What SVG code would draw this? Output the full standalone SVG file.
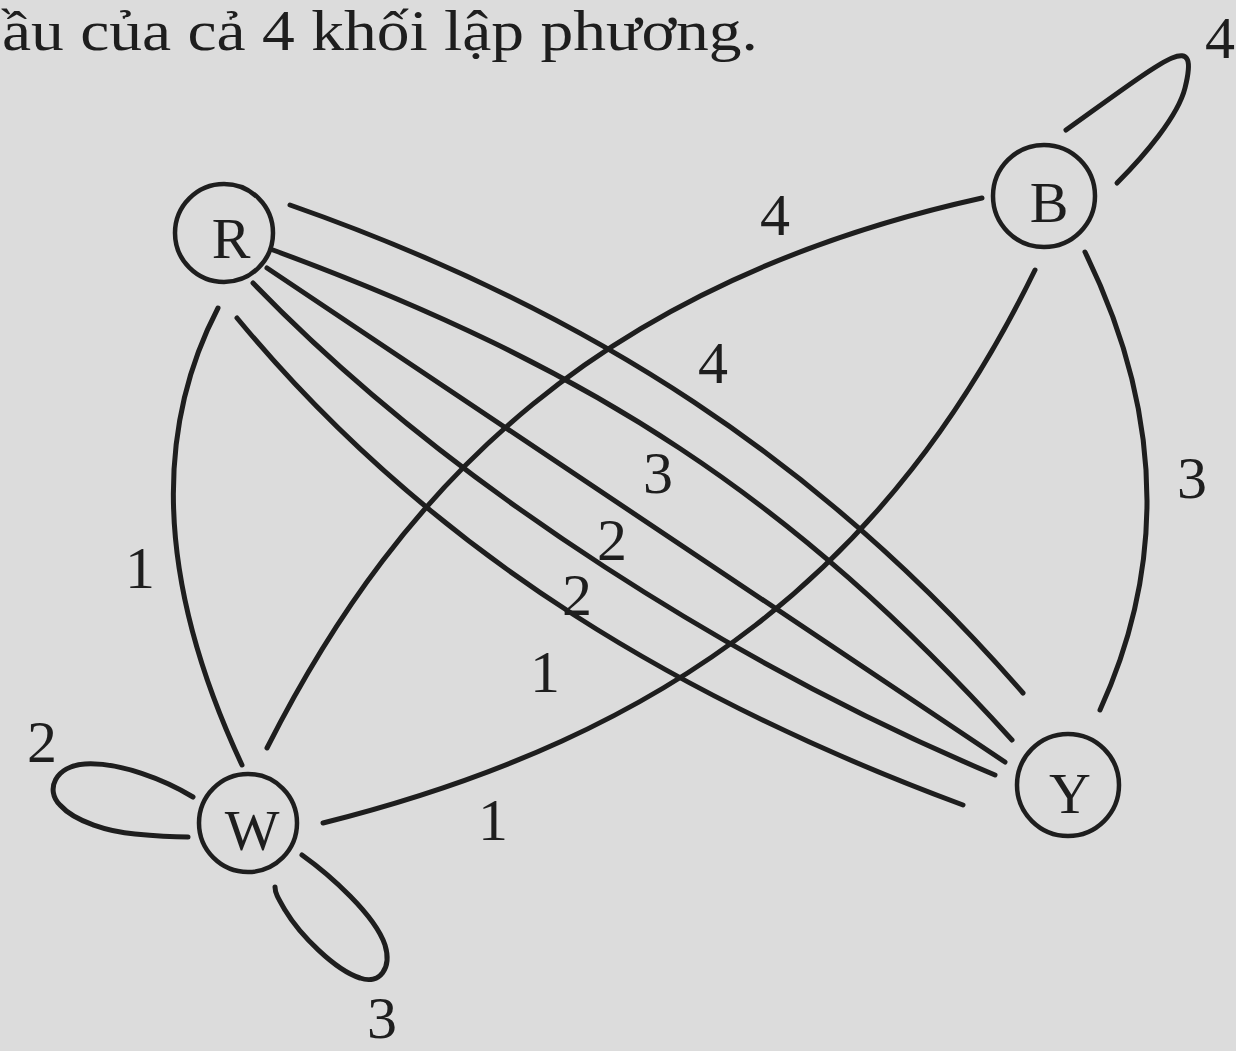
<svg xmlns="http://www.w3.org/2000/svg" width="1236" height="1051" viewBox="0 0 1236 1051">
<style>
.bg{fill:#dcdcdc}
.node circle{fill:none;stroke:#1e1e1e;stroke-width:4.5}
.node text{font-family:"Liberation Serif","DejaVu Serif",serif;font-size:58px;fill:#1e1e1e;text-anchor:middle}
.edges path{fill:none;stroke:#1e1e1e;stroke-width:5;stroke-linecap:round}
.lbl{font-family:"Liberation Serif","DejaVu Serif",serif;font-size:60px;fill:#1e1e1e;text-anchor:middle}
.cap{font-family:"Liberation Serif","DejaVu Serif",serif;font-size:56px;fill:#1e1e1e}
</style>
<rect class="bg" x="0" y="0" width="1236" height="1051"/>
<text class="cap" x="2" y="50" textLength="756" lengthAdjust="spacingAndGlyphs">ầu của cả 4 khối lập phương.</text>
<g class="edges" id="edges">
  <path id="e-RY4" d="M290,205 C590,310 823,463 1023,693"/>
  <path id="e-RY3" d="M273,250 C593,368 792,498 1012,740"/>
  <path id="e-RY2a" d="M267,268 L1005,762"/>
  <path id="e-RY2b" d="M253,283 C453,490 745,670 995,775"/>
  <path id="e-RY1" d="M237,318 C437,560 693,705 963,805"/>
  <path id="e-RW1" d="M218,308 Q118,500 242,765"/>
  <path id="e-BW4" d="M982,198 C602,282 402,481 267,748"/>
  <path id="e-WB1" d="M323,823 C673,735 890,567 1035,270"/>
  <path id="e-BY3" d="M1085,252 Q1201,489 1100,710"/>
  <path id="e-BB4" d="M1066,130 C1115,95 1155,65 1172,58 S1192,60 1185,88 S1145,155 1117,183"/>
  <path id="e-WW2" d="M193,797 C165,780 120,762 85,764 C55,766 45,790 60,805 C75,822 110,832 135,834 C155,836 175,837 188,837"/>
  <path id="e-WW3" d="M302,855 C330,875 375,915 385,945 C392,968 380,985 360,978 C335,970 300,935 285,910 C278,898 275,893 275,887"/>
</g>
<g id="labels">
  <text class="lbl" x="713" y="383">4</text>
  <text class="lbl" x="658" y="493">3</text>
  <text class="lbl" x="612" y="560">2</text>
  <text class="lbl" x="577" y="615">2</text>
  <text class="lbl" x="545" y="692">1</text>
  <text class="lbl" x="140" y="588">1</text>
  <text class="lbl" x="775" y="235">4</text>
  <text class="lbl" x="493" y="840">1</text>
  <text class="lbl" x="1192" y="498">3</text>
  <text class="lbl" x="1220" y="58">4</text>
  <text class="lbl" x="42" y="762">2</text>
  <text class="lbl" x="382" y="1038">3</text>
</g>
<g class="node" id="node-R"><circle cx="224" cy="233" r="49"/><text x="231" y="258">R</text></g>
<g class="node" id="node-B"><circle cx="1044" cy="196" r="51"/><text x="1049" y="222">B</text></g>
<g class="node" id="node-W"><circle cx="248" cy="823" r="49"/><text x="252" y="850">W</text></g>
<g class="node" id="node-Y"><circle cx="1068" cy="785" r="51"/><text x="1070" y="813">Y</text></g>
</svg>
